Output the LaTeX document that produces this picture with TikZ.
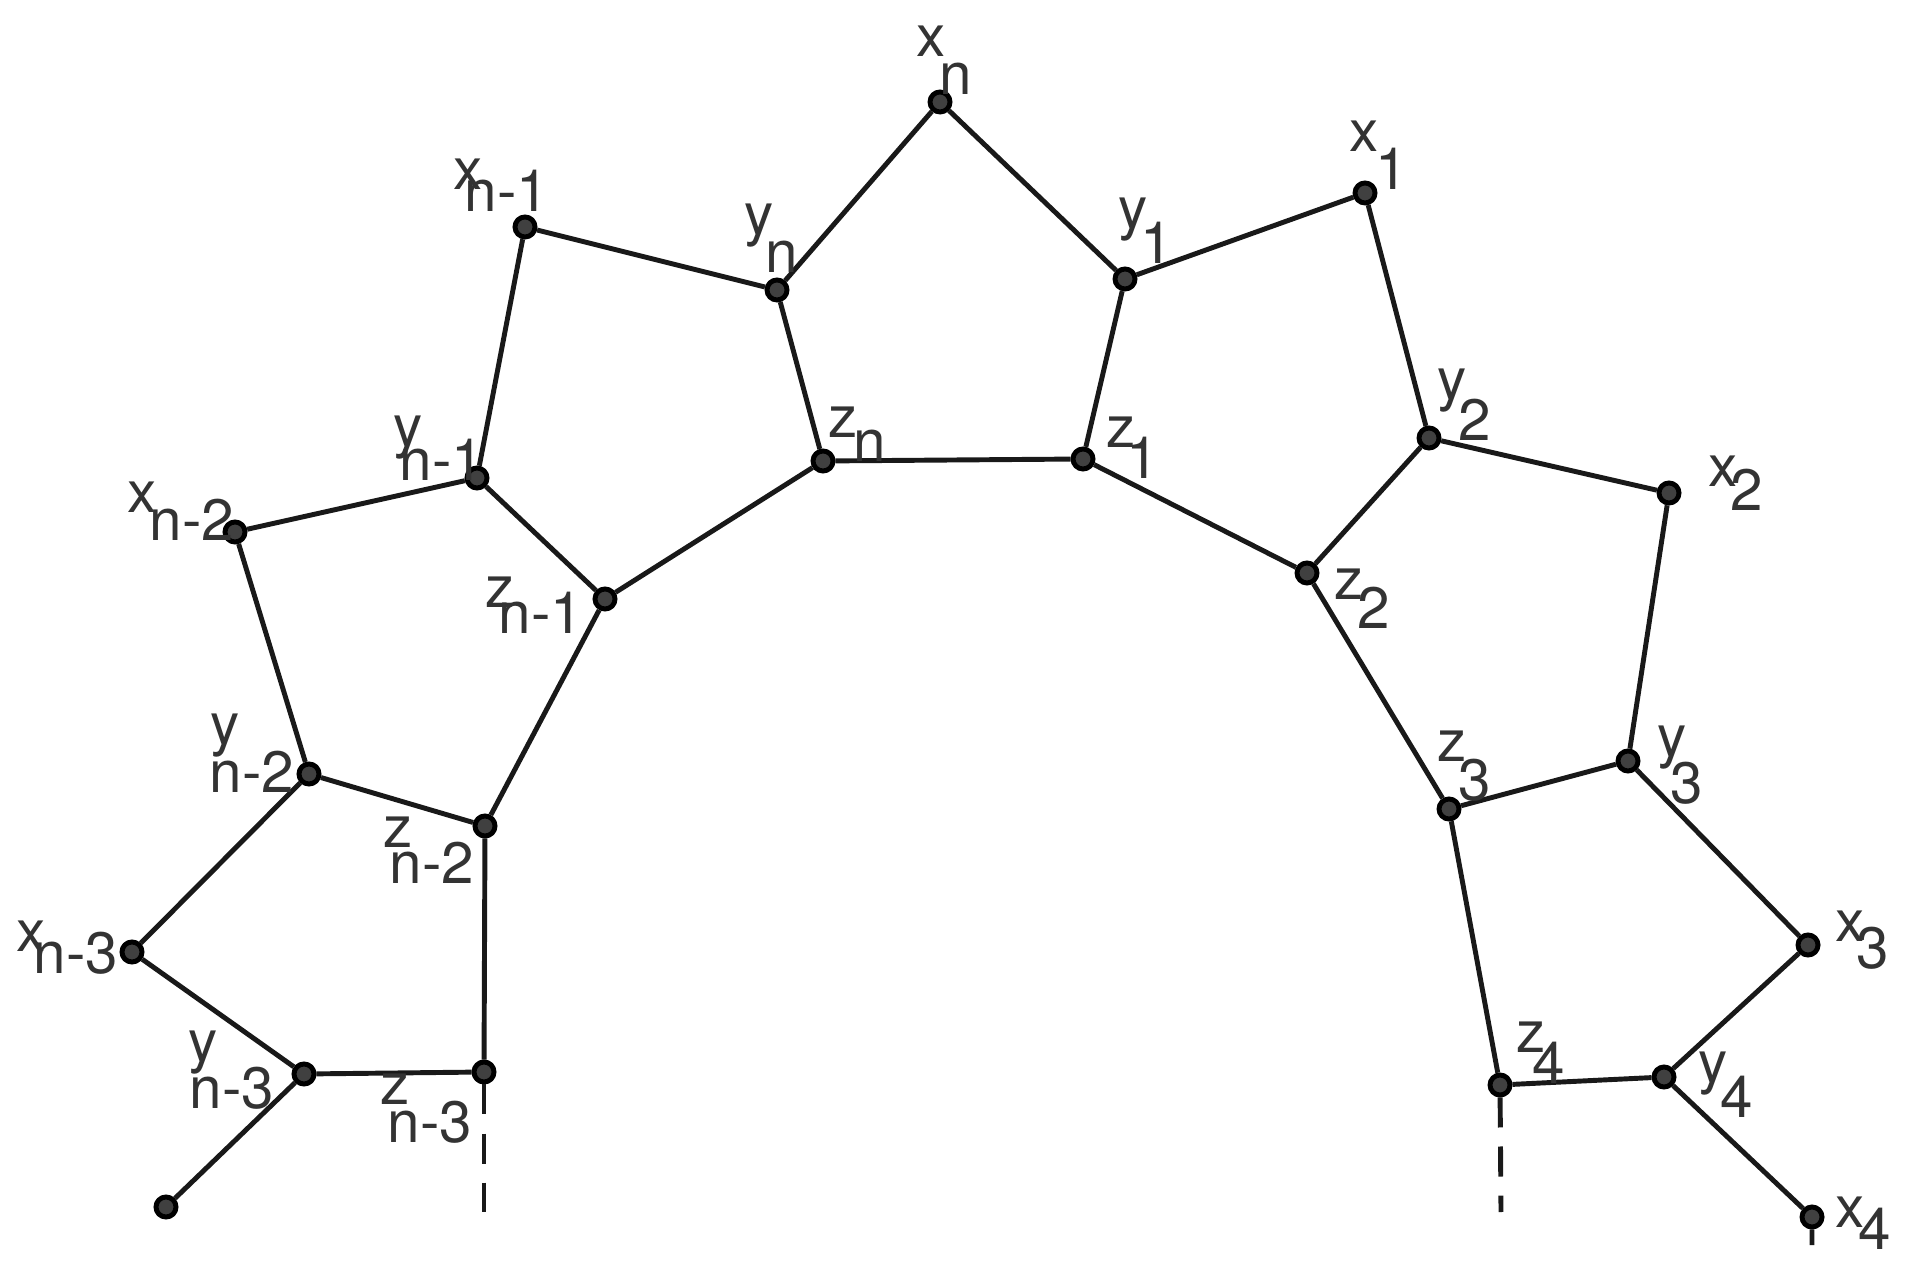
\documentclass[tikz,border=0pt]{standalone}
\usepackage{fontspec}
\setmainfont{TeX Gyre Heros}
\tikzset{
  dot/.style={circle, fill=black!75, draw=black, line width=1.4pt, inner sep=0pt, minimum size=2.0mm},
  edge/.style={line width=1.4pt, black!90},
  lab/.style={anchor=base west, inner sep=0pt, text=black!80, font=\fontsize{16.6}{18}\selectfont},
}
% letter with a dropped subscript: kern and drop in mm
\newcommand{\sublab}[4]{#1\kern#3mm\raisebox{-#4mm}{#2}}

\begin{document}
\begin{tikzpicture}[x=0.01cm, y=-0.01cm]
  \useasboundingbox (0,0) rectangle (1910,1271);

  % outer vertices
  \node[dot] (xn)  at (940,102)  {};
  \node[dot] (x1)  at (1365,193) {};
  \node[dot] (x2)  at (1669,493) {};
  \node[dot] (x3)  at (1808,945) {};
  \node[dot] (x4)  at (1812,1217) {};
  \node[dot] (xm1) at (525,227)  {};
  \node[dot] (xm2) at (235,532)  {};
  \node[dot] (xm3) at (132,952)  {};
  \node[dot] (tail) at (166,1207) {};

  % middle vertices
  \node[dot] (yn)  at (777,290)  {};
  \node[dot] (y1)  at (1125,279) {};
  \node[dot] (y2)  at (1429,438) {};
  \node[dot] (y3)  at (1628,761) {};
  \node[dot] (y4)  at (1664,1077) {};
  \node[dot] (ym1) at (477,478)  {};
  \node[dot] (ym2) at (309,774)  {};
  \node[dot] (ym3) at (304,1074) {};

  % inner vertices
  \node[dot] (zn)  at (823,461)  {};
  \node[dot] (z1)  at (1083,459) {};
  \node[dot] (z2)  at (1307,573) {};
  \node[dot] (z3)  at (1449,809) {};
  \node[dot] (z4)  at (1500,1085) {};
  \node[dot] (zm1) at (605,599)  {};
  \node[dot] (zm2) at (485,826)  {};
  \node[dot] (zm3) at (484,1072) {};

  % loose ends
  \coordinate (zm3end) at (484,1212);
  \coordinate (z4end)  at (1501,1212);
  \coordinate (x4end)  at (1812,1245);

  % outer zigzag
  \draw[edge] (xm1) -- (yn) -- (xn) -- (y1) -- (x1) -- (y2) -- (x2) -- (y3) -- (x3) -- (y4) -- (x4) -- (x4end);
  \draw[edge] (xm1) -- (ym1) -- (xm2) -- (ym2) -- (xm3) -- (ym3) -- (tail);

  % inner path
  \draw[edge] (zm3) -- (zm2) -- (zm1) -- (zn) -- (z1) -- (z2) -- (z3) -- (z4);

  % spokes
  \draw[edge] (yn) -- (zn);
  \draw[edge] (y1) -- (z1);
  \draw[edge] (y2) -- (z2);
  \draw[edge] (y3) -- (z3);
  \draw[edge] (y4) -- (z4);
  \draw[edge] (ym1) -- (zm1);
  \draw[edge] (ym2) -- (zm2);
  \draw[edge] (ym3) -- (zm3);

  % dashed continuations
  \draw[edge, dash pattern=on 3mm off 1.9mm] (zm3) -- (zm3end);
  \draw[edge, dash pattern=on 3mm off 1.9mm] (z4) -- (z4end);

  % labels
  \node[lab] (lxn)  at (916,57)    {\sublab{x}{n}{-0.6}{3.7}};
  \node[lab] (lyn)  at (744,235)   {\sublab{y}{n}{-0.8}{3.7}};
  \node[lab] (lxm1) at (453,190)   {\sublab{x}{n-1}{-1.8}{2.2}};
  \node[lab] (ly1)  at (1118,229)  {\sublab{y}{1}{-0.7}{3.4}};
  \node[lab] (lx1)  at (1349,152)  {\sublab{x}{1}{-0.3}{3.7}};
  \node[lab] (lzn)  at (828,438)   {\sublab{z}{n}{-0.4}{2.3}};
  \node[lab] (lz1)  at (1106,448)  {\sublab{z}{1}{-0.9}{3.0}};
  \node[lab] (lym1) at (393,447)   {\sublab{y}{n-1}{-2.3}{3.3}};
  \node[lab] (lxm2) at (127,513)   {\sublab{x}{n-2}{-0.7}{2.7}};
  \node[lab] (lzm1) at (485,608)   {\sublab{z}{n-1}{-1.6}{2.5}};
  \node[lab] (ly2)  at (1437,400)  {\sublab{y}{2}{-0.8}{4.0}};
  \node[lab] (lx2)  at (1708,487)  {\sublab{x}{2}{-0.7}{2.3}};
  \node[lab] (lz2)  at (1334,600)  {\sublab{z}{2}{-0.6}{2.8}};
  \node[lab] (lym2) at (210,745)   {\sublab{y}{n-2}{-3.0}{4.7}};
  \node[lab] (lzm2) at (383,847)   {\sublab{z}{n-2}{-2.3}{3.6}};
  \node[lab] (lz3)  at (1437,762)  {\sublab{z}{3}{-0.8}{3.8}};
  \node[lab] (ly3)  at (1657,757)  {\sublab{y}{3}{-1.6}{4.6}};
  \node[lab] (lx3)  at (1835,942)  {\sublab{x}{3}{-0.8}{2.6}};
  \node[lab] (lxm3) at (16,952)    {\sublab{x}{n-3}{-1.2}{2.1}};
  \node[lab] (lym3) at (188,1061)  {\sublab{y}{n-3}{-2.8}{4.7}};
  \node[lab] (lzm3) at (380,1104)  {\sublab{z}{n-3}{-2.2}{3.8}};
  \node[lab] (lz4)  at (1516,1052) {\sublab{z}{4}{-1.3}{3.1}};
  \node[lab] (ly4)  at (1698,1082) {\sublab{y}{4}{-0.7}{3.5}};
  \node[lab] (lx4)  at (1835,1227) {\sublab{x}{4}{-0.6}{2.2}};
\end{tikzpicture}
\end{document}
